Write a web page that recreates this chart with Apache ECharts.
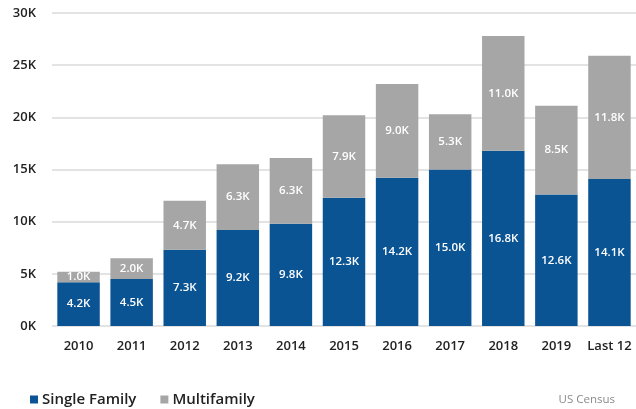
<!DOCTYPE html>
<html>
<head>
<meta charset="utf-8">
<script src="https://cdn.jsdelivr.net/npm/echarts@6/dist/echarts.min.js"></script>
<style>
  html, body { margin: 0; padding: 0; background: #fff; }
  #chart { width: 636px; height: 409px; }
</style>
</head>
<body>
<div id="chart"></div>
<script>
// Housing permits by year, thousands of units
const categories = ['2010', '2011', '2012', '2013', '2014', '2015', '2016', '2017', '2018', '2019', 'Last 12'];
const singleFamily = [4.2, 4.5, 7.3, 9.2, 9.8, 12.3, 14.2, 15.0, 16.8, 12.6, 14.1];
const multifamily = [1.0, 2.0, 4.7, 6.3, 6.3, 7.9, 9.0, 5.3, 11.0, 8.5, 11.8];
const yTicks = [0, 5, 10, 15, 20, 25, 30];

const FONT = 'Open Sans';
const BLUE = '#0b5494';
const GRAY = '#a6a6a6';

const chart = echarts.init(document.getElementById('chart'));

const barLabel = {
  show: true,
  position: 'inside',
  color: '#ffffff',
  fontFamily: FONT,
  fontSize: 11.5,
  fontWeight: 600,
  formatter: p => p.value.toFixed(1) + 'K'
};

chart.setOption({
  animation: false,
  textStyle: { fontFamily: FONT },
  grid: { left: 52, right: -2, top: 13, bottom: 83, containLabel: false },
  legend: {
    left: 25,
    top: 387,
    itemWidth: 8,
    itemHeight: 8,
    itemGap: 24,
    icon: 'rect',
    textStyle: { fontFamily: FONT, fontSize: 15, fontWeight: 600, color: '#222', padding: [0, 0, 0, -1] },
    data: ['Single Family', 'Multifamily']
  },
  title: {
    text: 'US Census',
    right: 16,
    top: 389,
    textStyle: { fontFamily: FONT, fontSize: 11.5, fontWeight: 'normal', color: '#8a8a8a' }
  },
  xAxis: {
    type: 'category',
    data: categories,
    axisLine: { show: false },
    axisTick: { show: false },
    axisLabel: { interval: 0, color: '#222', fontFamily: FONT, fontSize: 13, fontWeight: 600, margin: 14 }
  },
  yAxis: {
    type: 'value',
    min: yTicks[0],
    max: yTicks[yTicks.length - 1],
    interval: 5,
    axisLine: { show: false },
    axisTick: { show: false },
    splitLine: { lineStyle: { color: '#dadada', width: 1.5 } },
    axisLabel: {
      color: '#222', fontFamily: FONT, fontSize: 13, fontWeight: 600, margin: 16,
      formatter: v => v + 'K'
    }
  },
  series: [
    {
      name: 'Single Family',
      type: 'bar',
      stack: 'total',
      data: singleFamily,
      barCategoryGap: '20%',
      itemStyle: { color: BLUE },
      label: barLabel
    },
    {
      name: 'Multifamily',
      type: 'bar',
      stack: 'total',
      data: multifamily,
      itemStyle: { color: GRAY },
      label: barLabel
    }
  ]
});
</script>
</body>
</html>
